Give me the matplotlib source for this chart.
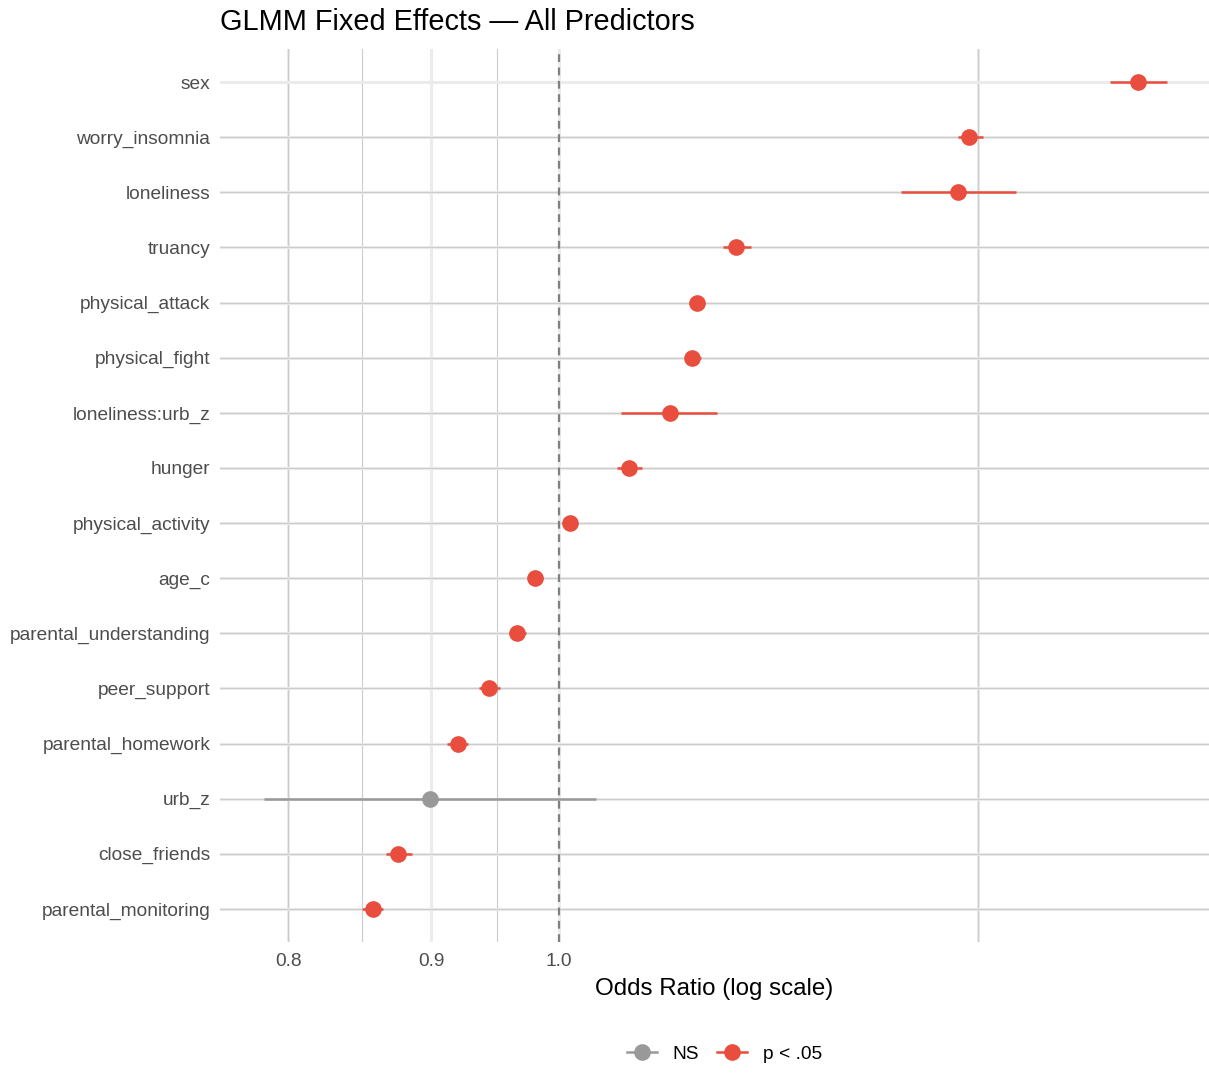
import numpy as np
import matplotlib
matplotlib.use("Agg")
import matplotlib.pyplot as plt
from matplotlib.lines import Line2D
from matplotlib.ticker import FixedLocator, NullFormatter

plt.rcParams["font.family"] = ["Liberation Sans", "DejaVu Sans"]

# bottom -> top
terms = ["parental_monitoring", "close_friends", "urb_z", "parental_homework",
         "peer_support", "parental_understanding", "age_c", "physical_activity",
         "hunger", "loneliness:urb_z", "physical_fight", "physical_attack",
         "truancy", "loneliness", "worry_insomnia", "sex"]
odds = [0.858, 0.876, 0.899, 0.920, 0.944, 0.966, 0.981, 1.009,
        1.060, 1.096, 1.116, 1.121, 1.158, 1.391, 1.403, 1.614]
ci_lo = [0.850, 0.867, 0.784, 0.912, 0.936, 0.960, 0.975, 1.005,
         1.049, 1.053, 1.110, 1.114, 1.145, 1.327, 1.391, 1.577]
ci_hi = [0.865, 0.886, 1.031, 0.928, 0.953, 0.973, 0.987, 1.013,
         1.071, 1.140, 1.125, 1.128, 1.172, 1.459, 1.420, 1.653]
signif = [True, True, False, True, True, True, True, True,
          True, True, True, True, True, True, True, True]

major_x = [0.8, 0.9, 1.0, 1.414]
major_labels = ["0.8", "0.9", "1.0", ""]
minor_x = [0.8, 0.85, 0.95, 1.414]

RED = "#E84D3D"
GREY = "#999999"

fig = plt.figure(figsize=(12.09, 10.78), dpi=100)
ax = fig.add_axes([220 / 1209, 1 - 942 / 1078, 989 / 1209, 893 / 1078])

y = np.arange(len(terms))
for yi, o, lo, hi, s in zip(y, odds, ci_lo, ci_hi, signif):
    c = RED if s else GREY
    ax.plot([lo, hi], [yi, yi], color=c, lw=1.8, solid_capstyle="butt", zorder=3)
    ax.plot(o, yi, "o", color=c, ms=12, mec="none", zorder=4)

ax.axvline(1.0, color="#808080", lw=1.6, ls=(0, (3.5, 2.5)), zorder=2)

ax.set_xscale("log")
ax.set_xlim(0.756, 1.711)
ax.set_ylim(-0.6, len(terms) - 0.4)
ax.xaxis.set_major_locator(FixedLocator(major_x))
ax.set_xticklabels(major_labels)
ax.xaxis.set_minor_locator(FixedLocator(minor_x))
ax.xaxis.set_minor_formatter(NullFormatter())
ax.xaxis.remove_overlapping_locs = False
ax.set_yticks(y)
ax.set_yticklabels(terms)
ax.yaxis.set_minor_locator(FixedLocator(y[:-1]))
ax.yaxis.remove_overlapping_locs = False

ax.grid(True, which="major", color="#EBEBEB", lw=2.2, zorder=0)
ax.grid(True, which="minor", color="#CCCCCC", lw=0.8, zorder=1)
ax.set_axisbelow(True)
for sp in ax.spines.values():
    sp.set_visible(False)
ax.tick_params(which="both", length=0)
ax.tick_params(axis="x", labelsize=13.8, labelcolor="#4D4D4D", pad=8)
ax.tick_params(axis="y", labelsize=13.8, labelcolor="#4D4D4D", pad=7)

ax.set_xlabel("Odds Ratio (log scale)", fontsize=17.4, labelpad=6)
fig.text(220 / 1209, 1 - 22 / 1078, "GLMM Fixed Effects \u2014 All Predictors",
         fontsize=20.8, ha="left", va="center")

handles = [Line2D([], [], color=GREY, lw=1.8, marker="o", ms=12, mec="none"),
           Line2D([], [], color=RED, lw=1.8, marker="o", ms=12, mec="none")]
fig.legend(handles, ["NS", "p < .05"], loc="center", bbox_to_anchor=(0.599, 1 - 1054 / 1078),
           ncol=2, frameon=False, fontsize=13.8, handlelength=1.6, columnspacing=0.9,
           handletextpad=0.8)

fig.savefig("out.png", dpi=100)
